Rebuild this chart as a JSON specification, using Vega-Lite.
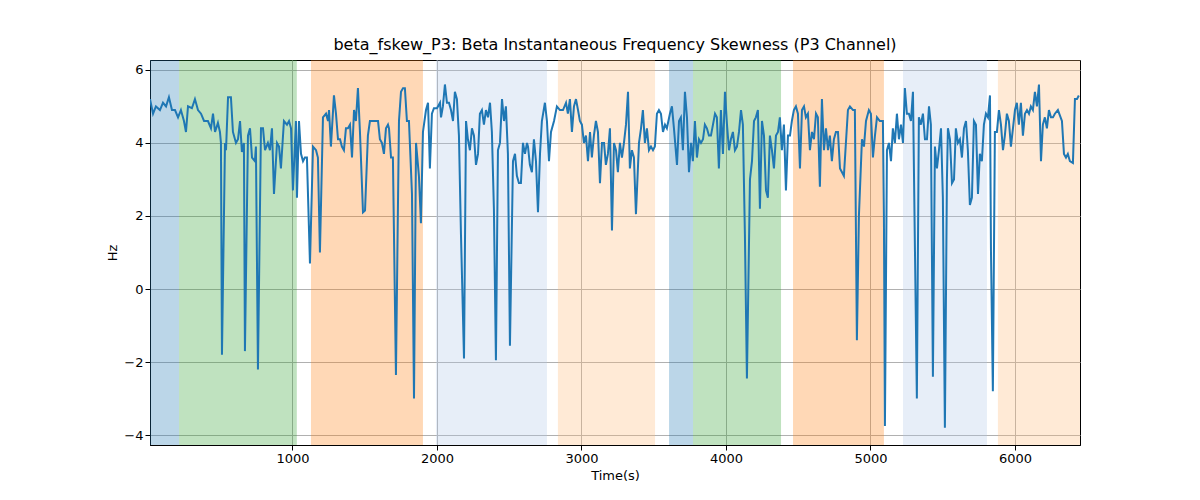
{
  "$schema": "https://vega.github.io/schema/vega-lite/v6.json",
  "width": 930,
  "height": 385,
  "autosize": {"type": "none"},
  "padding": {"left": 150, "top": 60, "right": 120, "bottom": 55},
  "background": "white",
  "title": {"text": "beta_fskew_P3: Beta Instantaneous Frequency Skewness (P3 Channel)", "font": "DejaVu Sans", "fontSize": 16, "fontWeight": "normal", "offset": 7},
  "config": {
    "view": {"stroke": "black", "strokeWidth": 1},
    "axis": {"labelFont": "DejaVu Sans", "titleFont": "DejaVu Sans", "labelFontSize": 13, "titleFontSize": 13, "titleFontWeight": "normal", "grid": true, "gridColor": "#b0b0b0", "gridWidth": 1, "domainColor": "black", "tickColor": "black", "labelColor": "black", "tickSize": 5}
  },
  "datasets": {
    "bands": [
      {"start": 14, "end": 215, "state": "A"},
      {"start": 215, "end": 1030, "state": "B"},
      {"start": 1128, "end": 1903, "state": "C"},
      {"start": 1993, "end": 2761, "state": "D"},
      {"start": 2837, "end": 3509, "state": "E"},
      {"start": 3606, "end": 3772, "state": "A"},
      {"start": 3772, "end": 4381, "state": "B"},
      {"start": 4464, "end": 5093, "state": "C"},
      {"start": 5225, "end": 5806, "state": "D"},
      {"start": 5882, "end": 6450, "state": "E"}
    ],
    "series": [
      {"t":14,"v":5.2},{"t":35,"v":4.8},{"t":55,"v":5.0},{"t":83,"v":4.9},{"t":104,"v":5.1},{"t":125,"v":5.0},{"t":145,"v":5.25},{"t":166,"v":4.9},{"t":187,"v":4.9},{"t":208,"v":4.7},
      {"t":228,"v":4.9},{"t":249,"v":4.6},{"t":263,"v":4.3},{"t":277,"v":5.0},{"t":304,"v":4.95},{"t":325,"v":5.2},{"t":346,"v":4.9},{"t":367,"v":4.8},{"t":388,"v":4.6},{"t":415,"v":4.6},
      {"t":436,"v":4.4},{"t":450,"v":4.8},{"t":464,"v":4.3},{"t":484,"v":4.55},{"t":498,"v":4.3},{"t":505,"v":4.0},{"t":512,"v":-1.8},{"t":533,"v":4.0},{"t":540,"v":3.8},{"t":554,"v":5.25},
      {"t":574,"v":5.25},{"t":588,"v":4.3},{"t":609,"v":4.0},{"t":623,"v":4.1},{"t":637,"v":4.6},{"t":650,"v":3.75},{"t":664,"v":4.0},{"t":671,"v":-1.7},{"t":692,"v":4.2},{"t":706,"v":4.4},
      {"t":720,"v":3.6},{"t":740,"v":3.5},{"t":747,"v":3.9},{"t":761,"v":-2.2},{"t":782,"v":4.4},{"t":796,"v":4.4},{"t":810,"v":3.8},{"t":830,"v":4.0},{"t":844,"v":3.8},{"t":858,"v":4.4},
      {"t":872,"v":2.6},{"t":893,"v":4.0},{"t":907,"v":3.9},{"t":920,"v":3.3},{"t":941,"v":4.6},{"t":962,"v":4.5},{"t":976,"v":4.6},{"t":990,"v":4.4},{"t":1003,"v":2.7},{"t":1024,"v":4.6},
      {"t":1031,"v":2.5},{"t":1045,"v":4.6},{"t":1059,"v":3.7},{"t":1073,"v":3.5},{"t":1086,"v":3.6},{"t":1100,"v":3.6},{"t":1121,"v":0.7},{"t":1142,"v":3.9},{"t":1163,"v":3.8},{"t":1176,"v":3.6},
      {"t":1190,"v":1.0},{"t":1211,"v":4.7},{"t":1232,"v":4.8},{"t":1246,"v":4.6},{"t":1253,"v":4.9},{"t":1266,"v":3.9},{"t":1287,"v":5.3},{"t":1301,"v":4.8},{"t":1315,"v":4.1},{"t":1329,"v":4.1},
      {"t":1342,"v":3.9},{"t":1356,"v":3.8},{"t":1370,"v":4.4},{"t":1384,"v":4.4},{"t":1398,"v":4.5},{"t":1412,"v":3.6},{"t":1426,"v":4.9},{"t":1439,"v":4.6},{"t":1453,"v":5.5},{"t":1467,"v":4.3},
      {"t":1488,"v":2.1},{"t":1502,"v":2.15},{"t":1522,"v":4.2},{"t":1536,"v":4.6},{"t":1564,"v":4.6},{"t":1592,"v":4.6},{"t":1605,"v":4.1},{"t":1619,"v":4.0},{"t":1633,"v":3.7},{"t":1647,"v":4.4},
      {"t":1661,"v":4.5},{"t":1668,"v":4.4},{"t":1682,"v":3.6},{"t":1695,"v":3.6},{"t":1716,"v":-2.35},{"t":1737,"v":4.6},{"t":1751,"v":5.4},{"t":1765,"v":5.5},{"t":1778,"v":5.5},{"t":1792,"v":4.6},
      {"t":1806,"v":4.6},{"t":1827,"v":2.6},{"t":1841,"v":-3.0},{"t":1855,"v":4.0},{"t":1875,"v":3.1},{"t":1889,"v":1.8},{"t":1903,"v":4.3},{"t":1924,"v":4.9},{"t":1938,"v":5.1},{"t":1951,"v":3.3},
      {"t":1965,"v":4.8},{"t":1979,"v":4.95},{"t":2000,"v":4.95},{"t":2021,"v":5.1},{"t":2028,"v":4.7},{"t":2041,"v":5.0},{"t":2055,"v":5.6},{"t":2069,"v":5.1},{"t":2083,"v":5.1},{"t":2097,"v":4.9},
      {"t":2111,"v":4.6},{"t":2124,"v":5.4},{"t":2138,"v":5.2},{"t":2152,"v":4.2},{"t":2166,"v":1.5},{"t":2187,"v":-1.9},{"t":2201,"v":4.6},{"t":2214,"v":4.1},{"t":2228,"v":3.8},{"t":2242,"v":4.4},
      {"t":2256,"v":4.2},{"t":2270,"v":3.4},{"t":2284,"v":3.7},{"t":2297,"v":4.8},{"t":2311,"v":4.9},{"t":2325,"v":4.5},{"t":2339,"v":4.9},{"t":2353,"v":4.7},{"t":2367,"v":5.1},{"t":2380,"v":4.3},
      {"t":2394,"v":2.2},{"t":2408,"v":-1.95},{"t":2422,"v":3.8},{"t":2436,"v":4.0},{"t":2450,"v":5.2},{"t":2464,"v":4.6},{"t":2477,"v":5.0},{"t":2491,"v":3.7},{"t":2505,"v":-1.55},{"t":2526,"v":3.5},
      {"t":2540,"v":3.7},{"t":2553,"v":3.1},{"t":2567,"v":2.9},{"t":2581,"v":2.9},{"t":2595,"v":4.0},{"t":2609,"v":3.7},{"t":2623,"v":4.0},{"t":2630,"v":3.9},{"t":2643,"v":3.4},{"t":2657,"v":3.2},
      {"t":2671,"v":4.1},{"t":2685,"v":3.5},{"t":2699,"v":2.1},{"t":2713,"v":3.7},{"t":2726,"v":4.6},{"t":2747,"v":5.1},{"t":2761,"v":4.6},{"t":2775,"v":3.5},{"t":2789,"v":4.3},{"t":2810,"v":4.6},
      {"t":2830,"v":5.0},{"t":2851,"v":4.9},{"t":2872,"v":4.9},{"t":2893,"v":5.1},{"t":2906,"v":4.8},{"t":2920,"v":5.2},{"t":2934,"v":4.3},{"t":2948,"v":5.0},{"t":2962,"v":5.2},{"t":2976,"v":4.9},
      {"t":2989,"v":4.6},{"t":3003,"v":4.5},{"t":3017,"v":4.0},{"t":3031,"v":4.2},{"t":3045,"v":3.5},{"t":3059,"v":4.3},{"t":3072,"v":3.6},{"t":3086,"v":4.2},{"t":3100,"v":4.6},{"t":3114,"v":4.3},
      {"t":3128,"v":2.9},{"t":3142,"v":4.0},{"t":3156,"v":4.0},{"t":3169,"v":3.4},{"t":3183,"v":3.7},{"t":3197,"v":4.4},{"t":3211,"v":1.6},{"t":3225,"v":4.0},{"t":3239,"v":3.8},{"t":3252,"v":3.2},
      {"t":3266,"v":4.0},{"t":3280,"v":3.6},{"t":3294,"v":4.0},{"t":3308,"v":4.5},{"t":3322,"v":5.4},{"t":3335,"v":3.3},{"t":3349,"v":3.8},{"t":3363,"v":3.6},{"t":3377,"v":2.05},{"t":3398,"v":4.0},
      {"t":3412,"v":4.4},{"t":3425,"v":4.9},{"t":3439,"v":4.0},{"t":3453,"v":4.4},{"t":3467,"v":3.8},{"t":3481,"v":3.9},{"t":3495,"v":3.8},{"t":3508,"v":3.9},{"t":3522,"v":4.8},{"t":3536,"v":4.9},
      {"t":3550,"v":4.8},{"t":3564,"v":4.3},{"t":3578,"v":4.5},{"t":3591,"v":4.4},{"t":3612,"v":4.8},{"t":3626,"v":5.0},{"t":3640,"v":4.4},{"t":3661,"v":3.4},{"t":3675,"v":4.6},{"t":3688,"v":4.7},
      {"t":3702,"v":3.8},{"t":3716,"v":5.4},{"t":3730,"v":4.7},{"t":3744,"v":3.2},{"t":3758,"v":4.0},{"t":3771,"v":3.5},{"t":3785,"v":4.6},{"t":3799,"v":3.6},{"t":3813,"v":4.1},{"t":3827,"v":4.0},
      {"t":3841,"v":4.1},{"t":3854,"v":4.5},{"t":3868,"v":4.4},{"t":3882,"v":4.2},{"t":3896,"v":4.2},{"t":3910,"v":4.5},{"t":3924,"v":4.8},{"t":3937,"v":4.7},{"t":3951,"v":3.3},{"t":3965,"v":4.9},
      {"t":3979,"v":3.7},{"t":3993,"v":5.4},{"t":4007,"v":4.5},{"t":4021,"v":3.8},{"t":4034,"v":4.1},{"t":4048,"v":4.3},{"t":4062,"v":3.8},{"t":4076,"v":3.9},{"t":4090,"v":4.3},{"t":4104,"v":4.9},
      {"t":4117,"v":4.5},{"t":4131,"v":1.5},{"t":4145,"v":-2.45},{"t":4166,"v":3.0},{"t":4180,"v":3.5},{"t":4194,"v":4.6},{"t":4207,"v":4.7},{"t":4221,"v":4.9},{"t":4235,"v":2.2},{"t":4249,"v":4.6},
      {"t":4263,"v":4.2},{"t":4277,"v":2.7},{"t":4290,"v":2.5},{"t":4304,"v":4.2},{"t":4318,"v":3.8},{"t":4332,"v":3.3},{"t":4346,"v":4.2},{"t":4360,"v":4.3},{"t":4373,"v":4.7},{"t":4387,"v":3.8},
      {"t":4401,"v":4.5},{"t":4415,"v":2.7},{"t":4429,"v":4.2},{"t":4443,"v":4.2},{"t":4456,"v":4.6},{"t":4470,"v":4.9},{"t":4484,"v":5.0},{"t":4498,"v":4.8},{"t":4512,"v":3.3},{"t":4526,"v":4.9},
      {"t":4540,"v":5.0},{"t":4553,"v":4.7},{"t":4567,"v":4.8},{"t":4581,"v":3.8},{"t":4595,"v":4.3},{"t":4609,"v":4.1},{"t":4623,"v":4.8},{"t":4636,"v":4.7},{"t":4650,"v":2.8},{"t":4664,"v":5.2},
      {"t":4678,"v":3.8},{"t":4692,"v":4.4},{"t":4706,"v":3.8},{"t":4719,"v":4.2},{"t":4733,"v":3.5},{"t":4747,"v":4.1},{"t":4761,"v":4.3},{"t":4775,"v":4.3},{"t":4789,"v":3.3},{"t":4816,"v":3.1},
      {"t":4844,"v":4.9},{"t":4858,"v":5.0},{"t":4879,"v":4.9},{"t":4892,"v":4.9},{"t":4906,"v":-1.4},{"t":4920,"v":2.0},{"t":4941,"v":4.1},{"t":4955,"v":3.9},{"t":4969,"v":4.6},{"t":4989,"v":4.9},
      {"t":5003,"v":4.8},{"t":5017,"v":3.6},{"t":5031,"v":4.2},{"t":5045,"v":4.7},{"t":5065,"v":4.6},{"t":5086,"v":4.6},{"t":5093,"v":2.0},{"t":5100,"v":-3.75},{"t":5114,"v":3.8},{"t":5128,"v":4.0},
      {"t":5142,"v":3.5},{"t":5155,"v":4.4},{"t":5169,"v":4.0},{"t":5183,"v":4.8},{"t":5197,"v":4.1},{"t":5211,"v":4.5},{"t":5225,"v":4.0},{"t":5238,"v":5.5},{"t":5252,"v":4.8},{"t":5266,"v":4.8},
      {"t":5280,"v":4.6},{"t":5294,"v":5.4},{"t":5308,"v":1.0},{"t":5321,"v":-3.0},{"t":5335,"v":4.7},{"t":5349,"v":4.5},{"t":5363,"v":4.8},{"t":5377,"v":4.1},{"t":5391,"v":4.1},{"t":5405,"v":5.0},
      {"t":5418,"v":4.5},{"t":5432,"v":-2.4},{"t":5446,"v":3.9},{"t":5460,"v":3.3},{"t":5474,"v":3.8},{"t":5488,"v":4.4},{"t":5501,"v":2.5},{"t":5515,"v":-3.8},{"t":5529,"v":3.0},{"t":5536,"v":4.4},
      {"t":5550,"v":4.1},{"t":5564,"v":2.9},{"t":5578,"v":3.0},{"t":5591,"v":4.4},{"t":5605,"v":4.0},{"t":5619,"v":4.1},{"t":5633,"v":3.6},{"t":5647,"v":4.4},{"t":5661,"v":4.6},{"t":5674,"v":3.8},
      {"t":5688,"v":2.3},{"t":5702,"v":2.5},{"t":5716,"v":4.6},{"t":5730,"v":4.5},{"t":5744,"v":2.6},{"t":5757,"v":3.7},{"t":5771,"v":3.5},{"t":5785,"v":4.5},{"t":5799,"v":4.8},{"t":5813,"v":4.7},
      {"t":5827,"v":5.3},{"t":5834,"v":1.0},{"t":5847,"v":-2.8},{"t":5861,"v":4.3},{"t":5875,"v":4.3},{"t":5889,"v":4.9},{"t":5903,"v":4.5},{"t":5917,"v":3.8},{"t":5930,"v":4.2},{"t":5944,"v":4.8},
      {"t":5958,"v":4.6},{"t":5972,"v":3.9},{"t":5986,"v":4.4},{"t":6000,"v":4.9},{"t":6013,"v":5.1},{"t":6027,"v":4.5},{"t":6041,"v":5.1},{"t":6055,"v":4.2},{"t":6069,"v":4.8},{"t":6083,"v":4.9},
      {"t":6097,"v":4.8},{"t":6110,"v":5.0},{"t":6124,"v":4.9},{"t":6138,"v":5.4},{"t":6152,"v":5.0},{"t":6166,"v":5.6},{"t":6180,"v":3.5},{"t":6193,"v":4.5},{"t":6207,"v":4.7},{"t":6221,"v":4.4},
      {"t":6235,"v":4.9},{"t":6249,"v":4.7},{"t":6263,"v":4.7},{"t":6276,"v":4.8},{"t":6297,"v":4.9},{"t":6325,"v":4.6},{"t":6339,"v":3.7},{"t":6353,"v":3.6},{"t":6366,"v":3.7},{"t":6380,"v":3.5},
      {"t":6401,"v":3.45},{"t":6415,"v":5.2},{"t":6429,"v":5.2},{"t":6442,"v":5.3}
    ]
  },
  "layer": [
    {
      "data": {"name": "bands"},
      "mark": {"type": "rect", "opacity": 0.3, "stroke": null},
      "encoding": {
        "x": {"field": "start", "type": "quantitative", "scale": {"domain": [14, 6450], "nice": false, "zero": false},
              "axis": {"title": "Time(s)", "values": [1000, 2000, 3000, 4000, 5000, 6000], "format": "d"}},
        "x2": {"field": "end"},
        "y": {"value": 0},
        "y2": {"value": 385},
        "color": {"field": "state", "type": "nominal", "legend": null,
                  "scale": {"domain": ["A", "B", "C", "D", "E"], "range": ["#1f77b4", "#2ca02c", "#ff7f0e", "#aec7e8", "#ffbb78"]}}
      }
    },
    {
      "data": {"name": "series"},
      "mark": {"type": "line", "color": "#1f77b4", "strokeWidth": 2, "clip": true},
      "encoding": {
        "x": {"field": "t", "type": "quantitative"},
        "y": {"field": "v", "type": "quantitative", "scale": {"domain": [-4.27, 6.27], "nice": false, "zero": false},
              "axis": {"title": "Hz", "values": [-4, -2, 0, 2, 4, 6]}}
      }
    }
  ]
}
